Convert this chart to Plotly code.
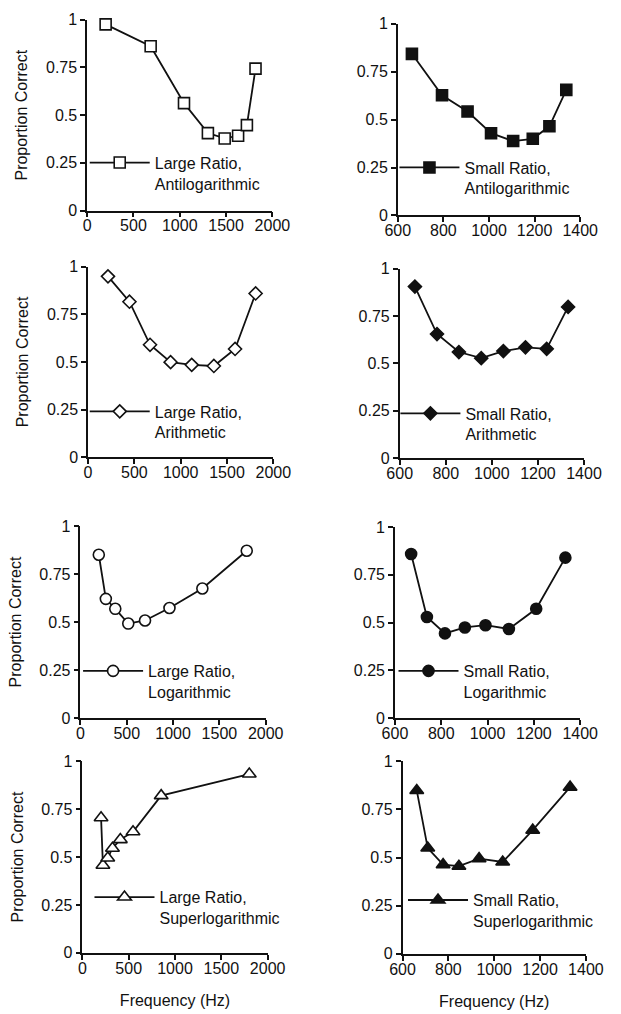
import plotly.graph_objects as go

W, H = 621, 1014

# ---- data ----
names = [
    "Large Ratio,<br>Antilogarithmic", "Small Ratio,<br>Antilogarithmic",
    "Large Ratio,<br>Arithmetic", "Small Ratio,<br>Arithmetic",
    "Large Ratio,<br>Logarithmic", "Small Ratio,<br>Logarithmic",
    "Large Ratio,<br>Superlogarithmic", "Small Ratio,<br>Superlogarithmic",
]
x_large_antilog = [200, 686, 1046, 1304, 1485, 1630, 1725, 1818]
y_large_antilog = [0.976, 0.861, 0.563, 0.406, 0.378, 0.392, 0.448, 0.744]
x_small_antilog = [662, 794, 906, 1009, 1106, 1192, 1265, 1339]
y_small_antilog = [0.843, 0.627, 0.542, 0.429, 0.388, 0.400, 0.465, 0.655]
x_large_arith = [215, 447, 669, 891, 1119, 1358, 1587, 1809]
y_large_arith = [0.949, 0.816, 0.590, 0.499, 0.485, 0.479, 0.568, 0.859]
x_small_arith = [666, 762, 857, 954, 1050, 1146, 1238, 1331]
y_small_arith = [0.905, 0.655, 0.560, 0.528, 0.565, 0.585, 0.577, 0.798]
x_large_log = [198, 274, 376, 516, 697, 961, 1316, 1795]
y_large_log = [0.851, 0.621, 0.569, 0.492, 0.508, 0.573, 0.675, 0.872]
x_small_log = [670, 738, 816, 902, 991, 1092, 1210, 1336]
y_small_log = [0.859, 0.529, 0.443, 0.474, 0.486, 0.466, 0.572, 0.840]
x_large_super = [202, 222, 274, 325, 410, 547, 851, 1802]
y_large_super = [0.705, 0.457, 0.495, 0.546, 0.591, 0.632, 0.820, 0.933]
x_small_super = [662, 710, 777, 846, 934, 1037, 1168, 1331]
y_small_super = [0.848, 0.549, 0.463, 0.455, 0.494, 0.477, 0.642, 0.865]

xs = [x_large_antilog, x_small_antilog, x_large_arith, x_small_arith,
      x_large_log, x_small_log, x_large_super, x_small_super]
ys = [y_large_antilog, y_small_antilog, y_large_arith, y_small_arith,
      y_large_log, y_small_log, y_large_super, y_small_super]

y_ticks = [0, 0.25, 0.5, 0.75, 1]
y_ticktext = ["0", "0.25", "0.5", "0.75", "1"]
x_ticks_large = [0, 500, 1000, 1500, 2000]
x_ticks_small = [600, 800, 1000, 1200, 1400]

# ---- styling / layout ----
symbols = ["square", "square", "diamond", "diamond", "circle", "circle",
           "triangle-up", "triangle-up"]
filled = [False, True, False, True, False, True, False, True]
msizes = [11, 11, 10, 10, 11, 11, 12, 12]
# panel pixel boxes: x0, x1, ytop, ybottom
boxes = [
    (78, 273, 12, 206), (405, 597, 16, 211),
    (79, 274, 263, 457), (407, 601, 265, 458),
    (71, 266, 527, 722), (402, 597, 528, 722),
    (73, 268, 766, 961), (410, 603, 766, 962),
]
# legend anchor: marker centre x, first-line centre y
leg_pos = [(119, 163), (445, 168), (119, 416), (446, 418),
           (112, 680), (444, 680), (124, 910), (454, 913)]

FONT = "Liberation Sans, Arial, sans-serif"
fs = 16
ink = "#111111"
IW = 60

fig = go.Figure()
layout = dict(
    width=W, height=H, margin=dict(l=0, r=0, t=0, b=0),
    paper_bgcolor="white", plot_bgcolor="white",
    font=dict(family=FONT, size=fs, color=ink),
    showlegend=True,
)

for i in range(8):
    k = "" if i == 0 else str(i + 1)
    leg = "legend" + k
    fig.add_trace(go.Scatter(
        x=xs[i], y=ys[i], mode="lines+markers", name=names[i],
        xaxis="x" + k, yaxis="y" + k, legend=leg, cliponaxis=False,
        line=dict(color=ink, width=1.8),
        marker=dict(symbol=symbols[i], size=msizes[i],
                    color=ink if filled[i] else "white",
                    line=dict(color=ink, width=1.6)),
    ))
    x0, x1, yt, yb = boxes[i]
    large = (i % 2 == 0)
    xax = dict(
        domain=[x0 / W, x1 / W], anchor="y" + k,
        range=[0, 2000] if large else [600, 1400],
        tickvals=x_ticks_large if large else x_ticks_small,
        showgrid=False, zeroline=False, showline=True, linecolor=ink, linewidth=1.5,
        ticks="outside", ticklen=5, tickwidth=1.5, tickcolor=ink,
        tickfont=dict(size=fs), fixedrange=True, ticklabelstandoff=-5,
    )
    if i >= 6:
        xax["title"] = dict(text="Frequency (Hz)", font=dict(size=fs), standoff=19)
    yax = dict(
        domain=[1 - yb / H, 1 - yt / H], anchor="x" + k,
        range=[0, 1], tickvals=y_ticks, ticktext=y_ticktext,
        showgrid=False, zeroline=False, showline=True, linecolor=ink, linewidth=1.5,
        ticks="outside", ticklen=5, tickwidth=1.5, tickcolor=ink,
        tickfont=dict(size=fs), fixedrange=True,
    )
    if large:
        yax["title"] = dict(text="Proportion Correct", font=dict(size=fs), standoff=14)
    layout["xaxis" + k] = xax
    layout["yaxis" + k] = yax
    mx, my = leg_pos[i]
    layout[leg] = dict(
        x=(mx - 13.5 - IW / 2) / W, xanchor="left",
        y=1 - (my - 23) / H, yanchor="top",
        bgcolor="rgba(0,0,0,0)", borderwidth=0,
        itemwidth=IW, valign="top",
        font=dict(family=FONT, size=fs, color=ink),
        itemclick=False, itemdoubleclick=False,
    )

fig.update_layout(**layout)
fig.write_html("out.html")
